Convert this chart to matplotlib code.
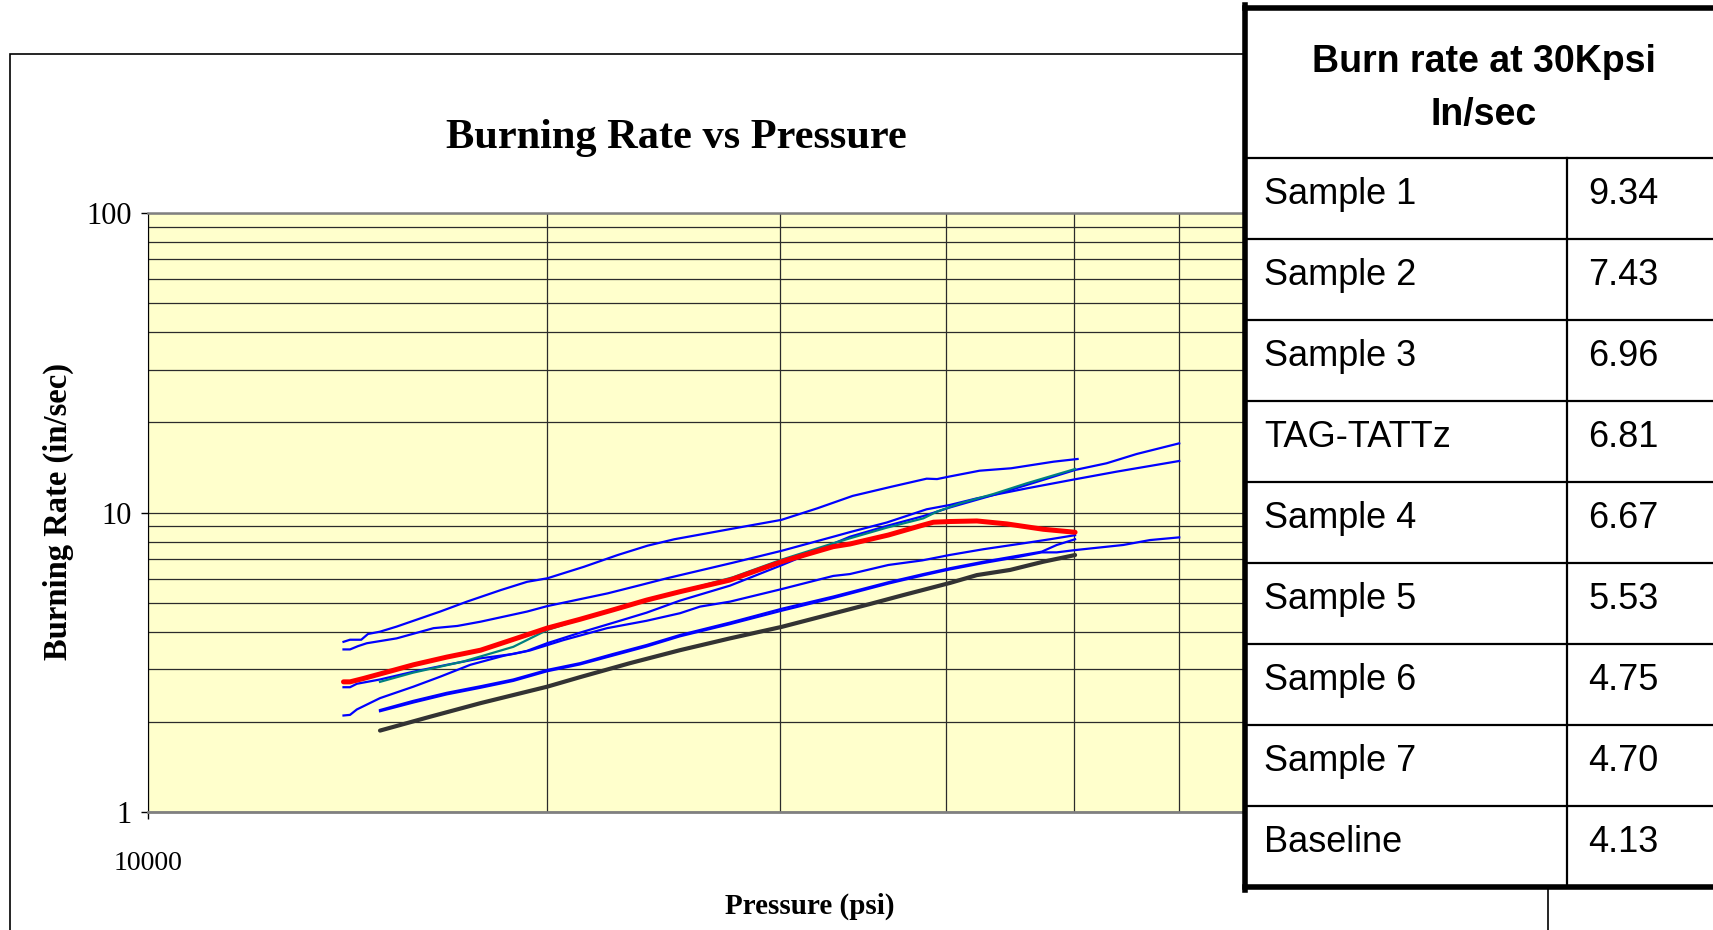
import numpy as np
import matplotlib.pyplot as plt
from matplotlib.patches import Rectangle
from matplotlib.ticker import FixedLocator, FixedFormatter, LogLocator, NullFormatter

# burning rate traces, pressure in psi / rate in in/sec
s1_p = [14040, 14200, 14480, 14650, 14960, 15400, 16610, 17400, 18460, 19320, 20010, 21330,
        22610, 23820, 24950, 27720, 30060, 32000, 34020, 36390, 38690, 39400, 40200, 42420,
        44810, 48240, 50300]
s1_r = [3.70, 3.76, 3.76, 3.93, 4.00, 4.16, 4.67, 5.04, 5.51, 5.87, 6.03, 6.59,
        7.21, 7.75, 8.14, 8.86, 9.45, 10.33, 11.36, 12.19, 12.97, 12.93, 13.17, 13.79,
        14.05, 14.78, 15.09]

s2_p = [14040, 14200, 14400, 14620, 15400, 16420, 17110, 17820, 19320, 20010, 22220, 23550,
        24630, 27640, 30070, 32890, 33860, 36100, 38690, 40300, 42220, 46050, 50080, 53830,
        57040, 60020]
s2_r = [3.49, 3.49, 3.58, 3.66, 3.80, 4.11, 4.18, 4.32, 4.67, 4.87, 5.37, 5.73,
        6.03, 6.80, 7.45, 8.30, 8.60, 9.26, 10.25, 10.60, 11.15, 12.04, 12.91, 13.69,
        14.30, 14.86]

s3_p = [14960, 15850, 17290, 18860, 20000, 21930, 25200, 27640, 30070, 32890, 33860, 36100,
        38470, 39380, 41010, 43460, 46050, 50080]
s3_r = [2.72, 2.92, 3.18, 3.56, 4.05, 4.62, 5.44, 6.08, 6.96, 7.89, 8.20, 8.90,
        9.56, 10.06, 10.73, 11.53, 12.52, 13.97]

s4_p = [14040, 14200, 14370, 14960, 15850, 16610, 17500, 18530, 19310, 20000, 21300, 22580,
        23780, 25200, 27490, 30070, 33860, 36100, 38470, 40300, 43460, 46050, 50080, 52900,
        55740, 60020]
s4_r = [2.10, 2.11, 2.20, 2.40, 2.62, 2.83, 3.10, 3.32, 3.45, 3.66, 4.00, 4.32,
        4.63, 5.08, 5.70, 6.67, 8.30, 9.02, 9.73, 10.40, 11.44, 12.36, 13.87, 14.60,
        15.68, 17.02]

s5_p = [14040, 14200, 14370, 14960, 15850, 16800, 17820, 18860, 19410, 20580, 22200, 23780,
        25200, 26090, 27490, 30070, 32890, 33860, 36200, 38400, 40250, 42700, 45770, 47940,
        50080]
s5_r = [2.61, 2.61, 2.68, 2.77, 2.94, 3.10, 3.26, 3.37, 3.46, 3.75, 4.11, 4.35,
        4.61, 4.85, 5.04, 5.55, 6.14, 6.23, 6.68, 6.92, 7.21, 7.54, 7.89, 8.14,
        8.40]

s6_p = [14960, 15850, 16800, 17820, 18860, 20000, 21180, 22430, 23780, 25200, 27490, 30070,
        32890, 36200, 38470, 40250, 42700, 45240, 47260, 48510, 50080]
s6_r = [2.19, 2.35, 2.50, 2.63, 2.77, 2.98, 3.14, 3.37, 3.61, 3.90, 4.29, 4.77,
        5.24, 5.85, 6.23, 6.51, 6.85, 7.16, 7.40, 7.79, 8.14]

s7_p = [14960, 15850, 16800, 17820, 18860, 20000, 21180, 22430, 23780, 25200, 27490, 30070,
        32890, 36200, 38470, 40250, 42700, 45240, 47260, 48510, 50080, 54450, 57040, 60020]
s7_r = [2.17, 2.32, 2.47, 2.60, 2.74, 2.95, 3.11, 3.33, 3.57, 3.86, 4.24, 4.70,
        5.18, 5.79, 6.17, 6.45, 6.78, 7.09, 7.36, 7.36, 7.49, 7.79, 8.09, 8.26]

tag_p = [14040, 14200, 14530, 14960, 15850, 16800, 17820, 18860, 20000, 21180, 22430, 23780,
         25200, 27490, 30070, 32890, 33860, 36200, 38250, 39150, 40300, 42220, 44480, 47390,
         50080]
tag_r = [2.72, 2.72, 2.79, 2.89, 3.10, 3.29, 3.47, 3.77, 4.11, 4.40, 4.73, 5.10,
         5.44, 5.95, 6.85, 7.69, 7.85, 8.41, 9.02, 9.28, 9.33, 9.37, 9.16, 8.79,
         8.59]

base_p = [14960, 16320, 17820, 20000, 21180, 23100, 25200, 27490, 30070, 32890, 35070, 37150,
          40300, 42220, 44730, 47390, 50080]
base_r = [1.87, 2.08, 2.31, 2.62, 2.82, 3.14, 3.47, 3.80, 4.15, 4.60, 4.95, 5.30,
          5.82, 6.18, 6.43, 6.85, 7.21]

# table next to the chart
table_title = ["Burn rate at 30Kpsi", "In/sec"]
table_names = ["Sample 1", "Sample 2", "Sample 3", "TAG-TATTz", "Sample 4",
               "Sample 5", "Sample 6", "Sample 7", "Baseline"]
table_rates = ["9.34", "7.43", "6.96", "6.81", "6.67", "5.53", "4.75", "4.70", "4.13"]

W, H = 1713, 930
fig = plt.figure(figsize=(W / 100, H / 100), dpi=100)
fig.patch.set_facecolor("white")

serif = "Liberation Serif"
sans = "Liberation Sans"

# outer chart frame (its bottom runs off the page)
fig.patches.append(Rectangle((10 / W, -0.05), (1548 - 10) / W, (H - 54) / H + 0.05,
                             transform=fig.transFigure, fill=False, lw=1.2, ec="black"))

ax = fig.add_axes([148.3 / W, (H - 812) / H, 1324.6 / W, 599 / H])
ax.set_facecolor("#FFFFCC")
ax.set_xscale("log")
ax.set_yscale("log")
ax.set_xlim(1e4, 1e5)
ax.set_ylim(1, 100)

blue = "#0000FF"
for p, r in [(s1_p, s1_r), (s2_p, s2_r), (s4_p, s4_r), (s5_p, s5_r),
             (s6_p, s6_r), (s7_p, s7_r)]:
    ax.plot(p, r, color=blue, lw=1.6, zorder=3)
ax.plot(s3_p, s3_r, color="#008080", lw=1.6, zorder=3)
ax.plot(base_p, base_r, color="#333333", lw=3.0, solid_capstyle="round", zorder=4)
ax.plot(tag_p, tag_r, color="#FF0000", lw=3.6, solid_capstyle="round", zorder=5)

ax.xaxis.set_major_locator(FixedLocator([1e4]))
ax.xaxis.set_major_formatter(FixedFormatter(["10000"]))
ax.xaxis.set_minor_locator(LogLocator(base=10, subs=np.arange(2, 10)))
ax.xaxis.set_minor_formatter(NullFormatter())
ax.yaxis.set_major_locator(FixedLocator([1, 10, 100]))
ax.yaxis.set_major_formatter(FixedFormatter(["1", "10", "100"]))
ax.yaxis.set_minor_locator(LogLocator(base=10, subs=np.arange(2, 10)))
ax.yaxis.set_minor_formatter(NullFormatter())

ax.grid(True, which="both", color="#2b2b2b", lw=0.9)
ax.set_axisbelow(True)
ax.tick_params(which="minor", length=0)
ax.tick_params(axis="y", which="major", direction="out", length=5, width=1, pad=7,
               labelsize=22, colors="black")
ax.tick_params(axis="x", which="major", direction="out", length=5, width=1, pad=23,
               labelsize=20, colors="black")
for lab in ax.get_xticklabels() + ax.get_yticklabels():
    lab.set_fontfamily(serif)

ax.spines["top"].set_color("#808080")
ax.spines["top"].set_linewidth(1.8)
ax.spines["bottom"].set_color("#808080")
ax.spines["bottom"].set_linewidth(2.0)
ax.spines["left"].set_color("black")
ax.spines["left"].set_linewidth(0.8)
ax.spines["right"].set_visible(False)

fig.text(676 / W, 1 - 138 / H, "Burning Rate vs Pressure", ha="center", va="center",
         fontsize=30.5, fontweight="bold", family=serif)
fig.text(810 / W, 1 - 906 / H, "Pressure (psi)", ha="center", va="center",
         fontsize=21, fontweight="bold", family=serif)
fig.text(58 / W, 1 - 511 / H, "Burning Rate (in/sec)", ha="center", va="center",
         rotation=90, fontsize=23.5, fontweight="bold", family=serif)

# table overlay, drawn in pixel units
tab = fig.add_axes([1241 / W, 0, 500 / W, 1], zorder=10)
tab.set_xlim(1241, 1741)
tab.set_ylim(H, 0)
tab.axis("off")
tab.add_patch(Rectangle((1245, 8), 496, 878, fc="white", ec="none"))

row_top = 158
row_h = 81
n = len(table_names)
bottom = row_top + row_h * n
for i in range(n):
    y = row_top + row_h * i
    tab.plot([1245, 1741], [y, y], color="black", lw=1.6)
tab.plot([1567, 1567], [row_top, bottom], color="black", lw=1.6)
tab.plot([1245, 1245], [5.5, bottom + 2.5], color="black", lw=4, solid_capstyle="projecting")
tab.plot([1245, 1741], [8, 8], color="black", lw=4)
tab.plot([1245, 1741], [bottom, bottom], color="black", lw=4)

tab.text(1484, 71.5, table_title[0], ha="center", va="baseline", fontsize=27,
         fontweight="bold", family=sans)
tab.text(1484, 125, table_title[1], ha="center", va="baseline", fontsize=27,
         fontweight="bold", family=sans)
for i, (name, rate) in enumerate(zip(table_names, table_rates)):
    yb = row_top + row_h * i + 46
    tab.text(1264, yb, name, ha="left", va="baseline", fontsize=26, family=sans)
    tab.text(1588, yb, rate, ha="left", va="baseline", fontsize=26, family=sans)

fig.savefig("out.png", dpi=100)
